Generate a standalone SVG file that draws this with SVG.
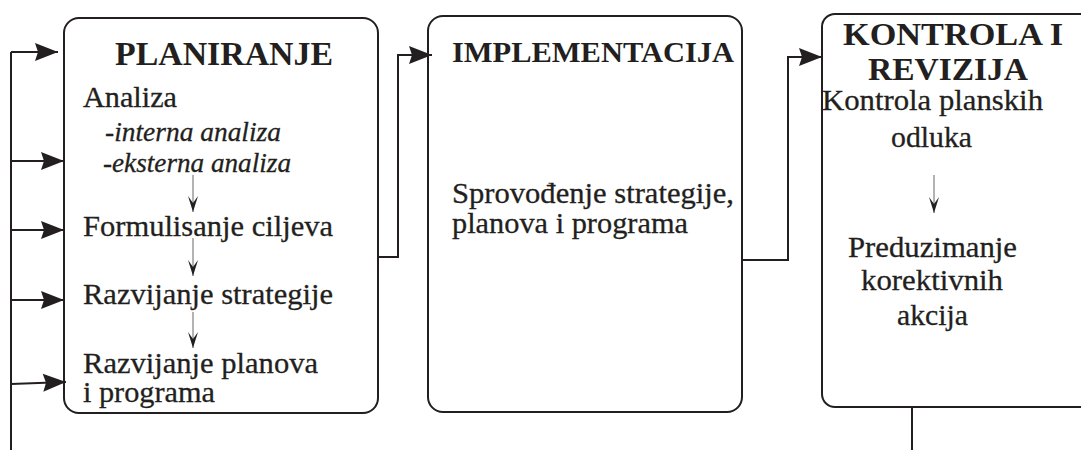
<svg xmlns="http://www.w3.org/2000/svg" width="1081" height="450" viewBox="0 0 1081 450">
<defs>
<style>
.box{fill:#fff;stroke:#231f20;stroke-width:2}
.con{fill:none;stroke:#231f20;stroke-width:2}
.thin{fill:none;stroke:#666;stroke-width:1}
.h{font-family:"Liberation Serif","Times New Roman",serif;font-weight:bold;fill:#231f20}
.t{font-family:"Liberation Serif","Times New Roman",serif;font-size:30px;fill:#231f20;stroke:#231f20;stroke-width:0.3}
.i{font-family:"Liberation Serif","Times New Roman",serif;font-size:27px;font-style:italic;fill:#231f20;stroke:#231f20;stroke-width:0.3}
</style>
<marker id="big" markerUnits="userSpaceOnUse" markerWidth="26" markerHeight="22" viewBox="-25 -11 26 22" refX="0" refY="0" orient="auto">
<path d="M0,0 L-23,-9 L-20,0 L-23,9 Z" fill="#231f20"/>
</marker>
<marker id="small" markerUnits="userSpaceOnUse" markerWidth="18" markerHeight="14" viewBox="-17 -7 18 14" refX="0" refY="0" orient="auto">
<path d="M0,0 L-16,-5 L-9,0 L-16,5 Z" fill="#231f20"/>
</marker>
</defs>
<g id="planiranje">
<rect class="box" x="64" y="18" width="314" height="395" rx="15"/>
<text class="h" x="115" y="65" font-size="33" textLength="218" lengthAdjust="spacingAndGlyphs">PLANIRANJE</text>
<text class="t" x="83" y="107" textLength="94" lengthAdjust="spacingAndGlyphs">Analiza</text>
<text class="i" x="105" y="141" textLength="176" lengthAdjust="spacingAndGlyphs">-interna analiza</text>
<text class="i" x="103" y="172" textLength="188" lengthAdjust="spacingAndGlyphs">-eksterna analiza</text>
<text class="t" x="83" y="236" textLength="250" lengthAdjust="spacingAndGlyphs">Formulisanje ciljeva</text>
<text class="t" x="83" y="304" textLength="250" lengthAdjust="spacingAndGlyphs">Razvijanje strategije</text>
<text class="t" x="83" y="373" textLength="235" lengthAdjust="spacingAndGlyphs">Razvijanje planova</text>
<text class="t" x="83" y="402" textLength="132" lengthAdjust="spacingAndGlyphs">i programa</text>
</g>
<g id="implementacija">
<rect class="box" x="428" y="16" width="314" height="396" rx="15"/>
<text class="h" x="452" y="62" font-size="30" textLength="282" lengthAdjust="spacingAndGlyphs">IMPLEMENTACIJA</text>
<text class="t" x="452" y="203" textLength="282" lengthAdjust="spacingAndGlyphs">Sprovođenje strategije,</text>
<text class="t" x="452" y="233" textLength="236" lengthAdjust="spacingAndGlyphs">planova i programa</text>
</g>
<g id="kontrola">
<rect class="box" x="822" y="14" width="280" height="393" rx="13"/>
<text class="h" x="843" y="45" font-size="31" textLength="220" lengthAdjust="spacingAndGlyphs">KONTROLA I</text>
<text class="h" x="868" y="80" font-size="31" textLength="160" lengthAdjust="spacingAndGlyphs">REVIZIJA</text>
<text class="t" x="822" y="110" textLength="221" lengthAdjust="spacingAndGlyphs">Kontrola planskih</text>
<text class="t" x="891" y="147" textLength="81" lengthAdjust="spacingAndGlyphs">odluka</text>
<text class="t" x="848" y="257" textLength="169" lengthAdjust="spacingAndGlyphs">Preduzimanje</text>
<text class="t" x="861" y="290" textLength="142" lengthAdjust="spacingAndGlyphs">korektivnih</text>
<text class="t" x="897" y="325" textLength="71" lengthAdjust="spacingAndGlyphs">akcija</text>
</g>
<g id="connectors">
<path class="con" d="M11,450 V52"/>
<path class="con" d="M11,52 H58" marker-end="url(#big)"/>
<path class="con" d="M11,161 H64" marker-end="url(#big)"/>
<path class="con" d="M11,230 H64" marker-end="url(#big)"/>
<path class="con" d="M11,300 H64" marker-end="url(#big)"/>
<path class="con" d="M11,384 L66,382" marker-end="url(#big)"/>
<path class="con" d="M379,257 H398 V55 H432" marker-end="url(#big)"/>
<path class="con" d="M743,260 H788 V57 H822" marker-end="url(#big)"/>
<path class="con" d="M912,408 V450"/>
<path class="thin" d="M193,175 V212" marker-end="url(#small)"/>
<path class="thin" d="M193,238 V276" marker-end="url(#small)"/>
<path class="thin" d="M193,312 V348" marker-end="url(#small)"/>
<path class="thin" d="M934,175 V213" marker-end="url(#small)"/>
</g>
</svg>
